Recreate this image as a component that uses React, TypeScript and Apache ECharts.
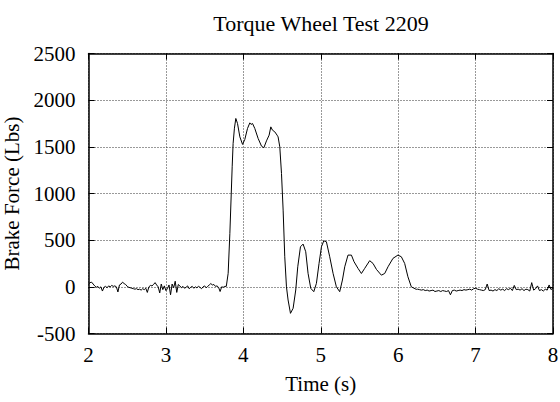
import React, { useEffect, useRef } from "react";
import * as echarts from "echarts";

const TITLE = "Torque Wheel Test 2209";
const X_NAME = "Time (s)";
const Y_NAME = "Brake Force (Lbs)";
const X_MIN = 2, X_MAX = 8, X_STEP = 1;
const Y_MIN = -500, Y_MAX = 2500, Y_STEP = 500;

// Quiet period before braking: [time s, force lbs]
const preBrake: [number, number][] = [
  [2.00, 30], [2.02, 45], [2.04, 50], [2.06, 30], [2.08, 10], [2.10, -5], [2.12, 5], [2.14, -15],
  [2.16, 0], [2.18, -45], [2.20, -5], [2.22, 5], [2.24, -10], [2.26, 10], [2.28, 0], [2.30, 15],
  [2.32, 5], [2.34, 10], [2.36, 0], [2.38, -55], [2.40, 20], [2.42, 30], [2.44, 50], [2.46, 35],
  [2.48, 25], [2.50, 5], [2.52, -5], [2.54, -10], [2.56, -15], [2.58, -20], [2.60, -25], [2.62, -20],
  [2.64, -30], [2.66, -25], [2.68, -35], [2.70, -20], [2.72, -30], [2.74, -15], [2.76, -60], [2.78, 0],
  [2.80, 15], [2.82, 10], [2.84, 25], [2.86, 45], [2.88, 20], [2.90, 0], [2.92, -65], [2.94, 30],
  [2.96, -30], [2.98, 10], [3.00, -40], [3.02, -20], [3.04, 20], [3.06, -85], [3.08, 30], [3.10, -10],
  [3.12, 60], [3.14, -60], [3.16, 25], [3.18, 10], [3.20, -10], [3.22, 5], [3.24, -15], [3.26, -5],
  [3.28, 10], [3.30, -20], [3.32, -5], [3.34, 5], [3.36, -15], [3.38, 0], [3.40, -10], [3.42, 5],
  [3.44, -5], [3.46, -20], [3.48, 0], [3.50, 10], [3.52, -10], [3.54, 5], [3.56, 20], [3.58, 35],
  [3.60, 20], [3.62, 25], [3.64, 5], [3.66, 10], [3.68, -5], [3.70, -50], [3.72, 0], [3.74, -5],
  [3.76, 5], [3.78, 5],
];

// Braking event and oscillations
const braking: [number, number][] = [
  [3.804, 145], [3.826, 573], [3.856, 1286], [3.868, 1536], [3.885, 1700], [3.903, 1804], [3.925, 1750],
  [3.955, 1607], [3.990, 1526], [4.019, 1579], [4.054, 1697], [4.084, 1757], [4.100, 1740], [4.119, 1750],
  [4.148, 1697], [4.191, 1590], [4.235, 1507], [4.265, 1490], [4.299, 1564], [4.333, 1625], [4.355, 1714],
  [4.376, 1679], [4.406, 1661], [4.436, 1625], [4.449, 1607], [4.471, 1500], [4.493, 1215], [4.514, 822],
  [4.535, 322], [4.557, 0], [4.578, -141], [4.609, -284], [4.643, -230], [4.677, -34], [4.703, 215],
  [4.738, 429], [4.772, 458], [4.806, 376], [4.836, 145], [4.871, -16], [4.910, -52], [4.944, 37],
  [4.978, 251], [5.009, 429], [5.039, 493], [5.073, 483], [5.116, 322], [5.159, 145], [5.202, 0],
  [5.245, -52], [5.280, 73], [5.310, 215], [5.352, 340], [5.396, 340], [5.430, 269], [5.481, 198],
  [5.525, 143], [5.568, 198], [5.632, 280], [5.675, 251], [5.719, 187], [5.783, 125], [5.826, 143],
  [5.869, 215], [5.933, 305], [5.997, 340], [6.041, 322], [6.084, 251], [6.126, 108], [6.170, 0],
  [6.234, -27],
];

// Settled period after braking
const postBrake: [number, number][] = [
  [6.250, -25], [6.275, -30], [6.300, -35], [6.325, -30], [6.350, -40], [6.375, -35], [6.400, -45],
  [6.425, -40], [6.450, -35], [6.475, -50], [6.500, -45], [6.525, -40], [6.550, -50], [6.575, -40],
  [6.600, -45], [6.625, -50], [6.650, -40], [6.675, -85], [6.700, -40], [6.725, -35], [6.750, -45],
  [6.775, -40], [6.800, -35], [6.825, -40], [6.850, -30], [6.875, -35], [6.900, -30], [6.925, -25],
  [6.950, -35], [6.975, -20], [7.000, -15], [7.025, -25], [7.050, -30], [7.075, -35], [7.100, -40],
  [7.125, -30], [7.150, 30], [7.175, -40], [7.200, -35], [7.225, -45], [7.250, -30], [7.275, -40],
  [7.300, -20], [7.325, -35], [7.350, -25], [7.375, -40], [7.400, -20], [7.425, -30], [7.450, -15],
  [7.475, -40], [7.500, 15], [7.525, -30], [7.550, -25], [7.575, -35], [7.600, -20], [7.625, -40],
  [7.650, -25], [7.675, -30], [7.700, -45], [7.725, 45], [7.750, -35], [7.775, -20], [7.800, 10],
  [7.825, -40], [7.850, -30], [7.875, -45], [7.900, -25], [7.925, -35], [7.950, 20], [7.975, -30],
  [8.000, -10],
];

const FONT = "'Liberation Serif', 'Times New Roman', serif";

export default function App() {
  const ref = useRef<HTMLDivElement>(null);
  useEffect(() => {
    if (!ref.current) return;
    const chart = echarts.init(ref.current, undefined, { renderer: "svg" });
    const data = [...preBrake, ...braking, ...postBrake];
    const axisLine = { show: true, onZero: false, lineStyle: { color: "#000", width: 1.5 } };
    const tick = { show: true, inside: true, length: 6, lineStyle: { color: "#000", width: 1 } };
    const split = { show: true, lineStyle: { color: "#333", width: 1, type: [1, 2] as any } };
    const label = {
      color: "#000", fontFamily: FONT, fontSize: 21,
      formatter: (v: number) => String(v),
    };
    chart.setOption({
      animation: false,
      backgroundColor: "#fff",
      textStyle: { fontFamily: FONT },
      title: {
        text: TITLE,
        left: 316,
        textAlign: "center",
        top: 7,
        textStyle: { color: "#000", fontFamily: FONT, fontSize: 22, fontWeight: "normal" },
      },
      grid: {
        left: 88.5, right: 7, top: 53.5, bottom: 68.5,
        containLabel: false, outerBoundsMode: "none",
      },
      xAxis: [
        {
          type: "value", min: X_MIN, max: X_MAX, interval: X_STEP, position: "bottom",
          name: X_NAME, nameLocation: "middle", nameGap: 40,
          nameTextStyle: { color: "#000", fontFamily: FONT, fontSize: 21 },
          axisLine, axisTick: tick, splitLine: split,
          axisLabel: { ...label, margin: 11 },
        },
        {
          type: "value", min: X_MIN, max: X_MAX, interval: X_STEP, position: "top",
          axisLine, axisTick: tick, splitLine: { show: false }, axisLabel: { show: false },
        },
      ],
      yAxis: [
        {
          type: "value", min: Y_MIN, max: Y_MAX, interval: Y_STEP, position: "left",
          name: Y_NAME, nameLocation: "middle", nameGap: 58,
          nameTextStyle: { color: "#000", fontFamily: FONT, fontSize: 21 },
          axisLine, axisTick: tick, splitLine: split,
          axisLabel: { ...label, margin: 13 },
        },
        {
          type: "value", min: Y_MIN, max: Y_MAX, interval: Y_STEP, position: "right",
          axisLine, axisTick: tick, splitLine: { show: false }, axisLabel: { show: false },
        },
      ],
      series: [
        {
          type: "line",
          data,
          xAxisIndex: 0,
          yAxisIndex: 0,
          showSymbol: false,
          symbol: "none",
          lineStyle: { color: "#000", width: 1 },
          clip: true,
        },
      ],
    });
    return () => chart.dispose();
  }, []);
  return <div ref={ref} style={{ width: 560, height: 402, position: "absolute", left: 0, top: 0 }} />;
}
